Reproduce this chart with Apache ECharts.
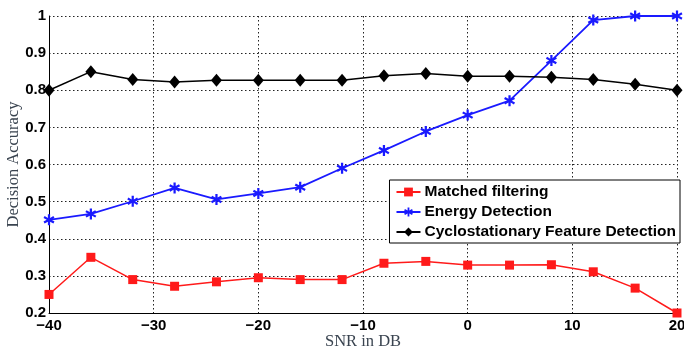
<!DOCTYPE html>
<html><head><meta charset="utf-8">
<script src="https://cdn.jsdelivr.net/npm/echarts@6/dist/echarts.min.js"></script>
<style>html,body{margin:0;padding:0;background:#fff}#c{width:684px;height:349px}</style>
</head><body><div id="c"></div>
<script>
const snr = [-40,-36,-32,-28,-24,-20,-16,-12,-8,-4,0,4,8,12,16,20];
const matched = [0.25,0.35,0.29,0.272,0.284,0.295,0.29,0.29,0.334,0.339,0.329,0.329,0.33,0.311,0.267,0.2];
const energy = [0.451,0.467,0.501,0.537,0.506,0.522,0.539,0.59,0.638,0.689,0.733,0.772,0.88,0.989,1.0,1.0];
const cyclo = [0.8,0.85,0.829,0.822,0.827,0.827,0.827,0.827,0.839,0.845,0.838,0.838,0.835,0.829,0.816,0.8];
const seriesNames = ['Matched filtering','Energy Detection','Cyclostationary Feature Detection'];

const pair = (ys) => snr.map((x,i)=>[x, ys[i]]);
const starPath = 'path://M4,0 L6,0 L6,3.3 L8.9,1.6 L9.9,3.4 L7,5 L9.9,6.6 L8.9,8.4 L6,6.7 L6,10 L4,10 L4,6.7 L1.1,8.4 L0.1,6.6 L3,5 L0.1,3.4 L1.1,1.6 L4,3.3 Z';
const chart = echarts.init(document.getElementById('c'));
chart.setOption({
  animation: false,
  grid: {left: 49, right: 7, top: 16, bottom: 36, outerBoundsMode: 'none', containLabel: false},
  xAxis: {
    type: 'value', min: -40, max: 20, interval: 10,
    axisLine: {show: true, onZero: false, lineStyle: {color: '#000', width: 1}},
    axisTick: {show: false},
    splitLine: {show: true, lineStyle: {color: '#222', type: [1.5,2.5], width: 1}},
    axisLabel: {color: '#000', fontFamily: 'Liberation Sans', fontWeight: 'bold', fontSize: 15, margin: 5,
      formatter: v => String(v).replace('-', '\u2212')},
    name: 'SNR in DB', nameLocation: 'middle', nameGap: 20, nameMoveOverlap: false,
    nameTextStyle: {color: '#3a4450', fontFamily: 'Liberation Serif', fontSize: 16.5}
  },
  yAxis: {
    type: 'value', min: 0.2, max: 1, interval: 0.1,
    axisLine: {show: true, onZero: false, lineStyle: {color: '#000', width: 1}},
    axisTick: {show: false},
    splitLine: {show: true, lineStyle: {color: '#222', type: [1.5,2.5], width: 1}},
    axisLabel: {color: '#000', fontFamily: 'Liberation Sans', fontWeight: 'bold', fontSize: 15, margin: 3,
      formatter: v => (Math.round(v*10)/10).toString()},
    name: 'Decision Accuracy', nameLocation: 'middle', nameGap: 27, nameMoveOverlap: false,
    nameTextStyle: {color: '#3a4450', fontFamily: 'Liberation Serif', fontSize: 16.5}
  },
  legend: {
    orient: 'vertical', right: 4, top: 180,
    backgroundColor: '#fff', borderColor: '#000', borderWidth: 1,
    padding: [4, 4, 3, 6], itemGap: 4, itemWidth: 24, itemHeight: 11,
    textStyle: {color: '#000', fontFamily: 'Liberation Sans', fontWeight: 'bold', fontSize: 15.5, padding: [0,0,0,-1]},
    data: seriesNames
  },
  series: [
    {name: seriesNames[0], type: 'line', data: pair(matched), color: '#ff1a1a',
     symbol: 'rect', symbolSize: 9, lineStyle: {width: 1.5}, itemStyle: {color: '#ff1a1a'}},
    {name: seriesNames[1], type: 'line', data: pair(energy), color: '#1a1aff',
     symbol: starPath, symbolSize: 11, lineStyle: {width: 1.8}, itemStyle: {color: '#1a1aff'}},
    {name: seriesNames[2], type: 'line', data: pair(cyclo), color: '#000',
     symbol: 'diamond', symbolSize: [11, 13], lineStyle: {width: 1.5}, itemStyle: {color: '#000'}}
  ]
});
</script></body></html>
